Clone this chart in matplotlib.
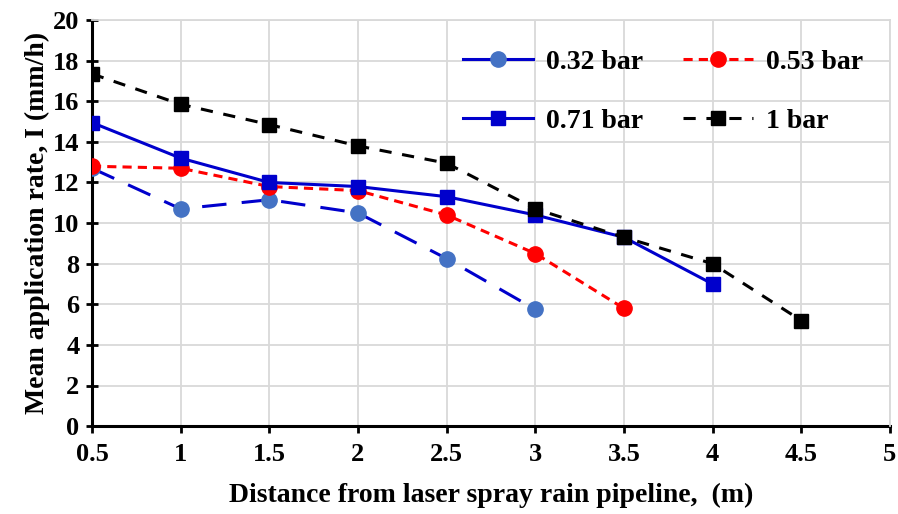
import matplotlib
matplotlib.use("Agg")
import matplotlib.pyplot as plt
from matplotlib.lines import Line2D

plt.rcParams["font.family"] = ["Liberation Serif", "DejaVu Serif"]
plt.rcParams["font.weight"] = "bold"

x_032 = [0.5, 1, 1.5, 2, 2.5, 3]
y_032 = [12.7, 10.7, 11.15, 10.5, 8.25, 5.75]
x_053 = [0.5, 1, 1.5, 2, 2.5, 3, 3.5]
y_053 = [12.8, 12.7, 11.8, 11.6, 10.4, 8.5, 5.8]
x_071 = [0.5, 1, 1.5, 2, 2.5, 3, 3.5, 4]
y_071 = [14.95, 13.2, 12.0, 11.8, 11.3, 10.4, 9.3, 7.0]
x_1 = [0.5, 1, 1.5, 2, 2.5, 3, 3.5, 4, 4.5]
y_1 = [17.35, 15.85, 14.85, 13.8, 12.95, 10.7, 9.3, 8.0, 5.2]
labels = ["0.32 bar", "0.53 bar", "0.71 bar", "1 bar"]
xticks = [0.5, 1, 1.5, 2, 2.5, 3, 3.5, 4, 4.5, 5]
xticklabels = ["0.5", "1", "1.5", "2", "2.5", "3", "3.5", "4", "4.5", "5"]

fig = plt.figure(figsize=(8.98, 5.14), dpi=100)
ax = fig.add_axes([0.1024, 0.171, 0.8886, 0.79])

dark_blue = "#0000CC"
light_blue = "#4472C4"

ax.plot(x_032, y_032, color=dark_blue, lw=2.2, dashes=(8, 5),
        marker="o", ms=11, mfc=light_blue, mec=light_blue, zorder=3)
ax.plot(x_053, y_053, color="red", lw=2.2, dashes=(3, 2),
        marker="o", ms=11, mfc="red", mec="red", zorder=4)
ax.plot(x_071, y_071, color=dark_blue, lw=2.2, ls="-",
        marker="s", ms=10, mfc=dark_blue, mec=dark_blue, zorder=5)
ax.plot(x_1, y_1, color="black", lw=2.2, dashes=(4, 3.5),
        marker="s", ms=10, mfc="black", mec="black", zorder=6)

ax.set_xlim(0.5, 5)
ax.set_ylim(0, 20)
ax.set_xticks(xticks)
ax.set_xticklabels(xticklabels)
ax.set_yticks(range(0, 21, 2))
ax.grid(True, color="#d9d9d9", lw=1.3)
ax.set_axisbelow(True)

for s in ["top", "right"]:
    ax.spines[s].set_color("#d9d9d9")
    ax.spines[s].set_linewidth(1.3)
for s in ["left", "bottom"]:
    ax.spines[s].set_linewidth(2.2)
    ax.spines[s].set_zorder(2)

ax.tick_params(axis="y", direction="inout", length=8, width=2, labelsize=19, pad=5)
ax.tick_params(axis="x", direction="out", length=5, width=2, labelsize=19, pad=7)
for t in ax.get_xticklabels() + ax.get_yticklabels():
    t.set_fontweight("bold")

ax.set_xlabel("Distance from laser spray rain pipeline,  (m)", fontsize=20,
              fontweight="bold", labelpad=12)
ax.set_ylabel("Mean application rate, I (mm/h)", fontsize=20,
              fontweight="bold", labelpad=2)

h032 = Line2D([], [], color=dark_blue, lw=2.2, marker="o", ms=11,
              mfc=light_blue, mec=light_blue)
h053 = Line2D([], [], color="red", lw=2.2, dashes=(3, 2), marker="o", ms=11,
              mfc="red", mec="red")
h071 = Line2D([], [], color=dark_blue, lw=2.2, marker="s", ms=10,
              mfc=dark_blue, mec=dark_blue)
h1 = Line2D([], [], color="black", lw=2.2, dashes=(4, 3.5), marker="s", ms=10,
            mfc="black", mec="black")
# ncol=2 fills columns first, so order to get rows 0.32/0.53 and 0.71/1
leg = ax.legend([h032, h071, h053, h1],
                [labels[0], labels[2], labels[1], labels[3]],
                ncol=2, loc="upper right", bbox_to_anchor=(0.966, 0.927),
                frameon=False, fontsize=20, handlelength=2.5,
                columnspacing=1.45, labelspacing=1.2, handletextpad=0.47,
                borderpad=0, borderaxespad=0)
for t in leg.get_texts():
    t.set_fontweight("bold")

fig.savefig("out.png", dpi=100)
